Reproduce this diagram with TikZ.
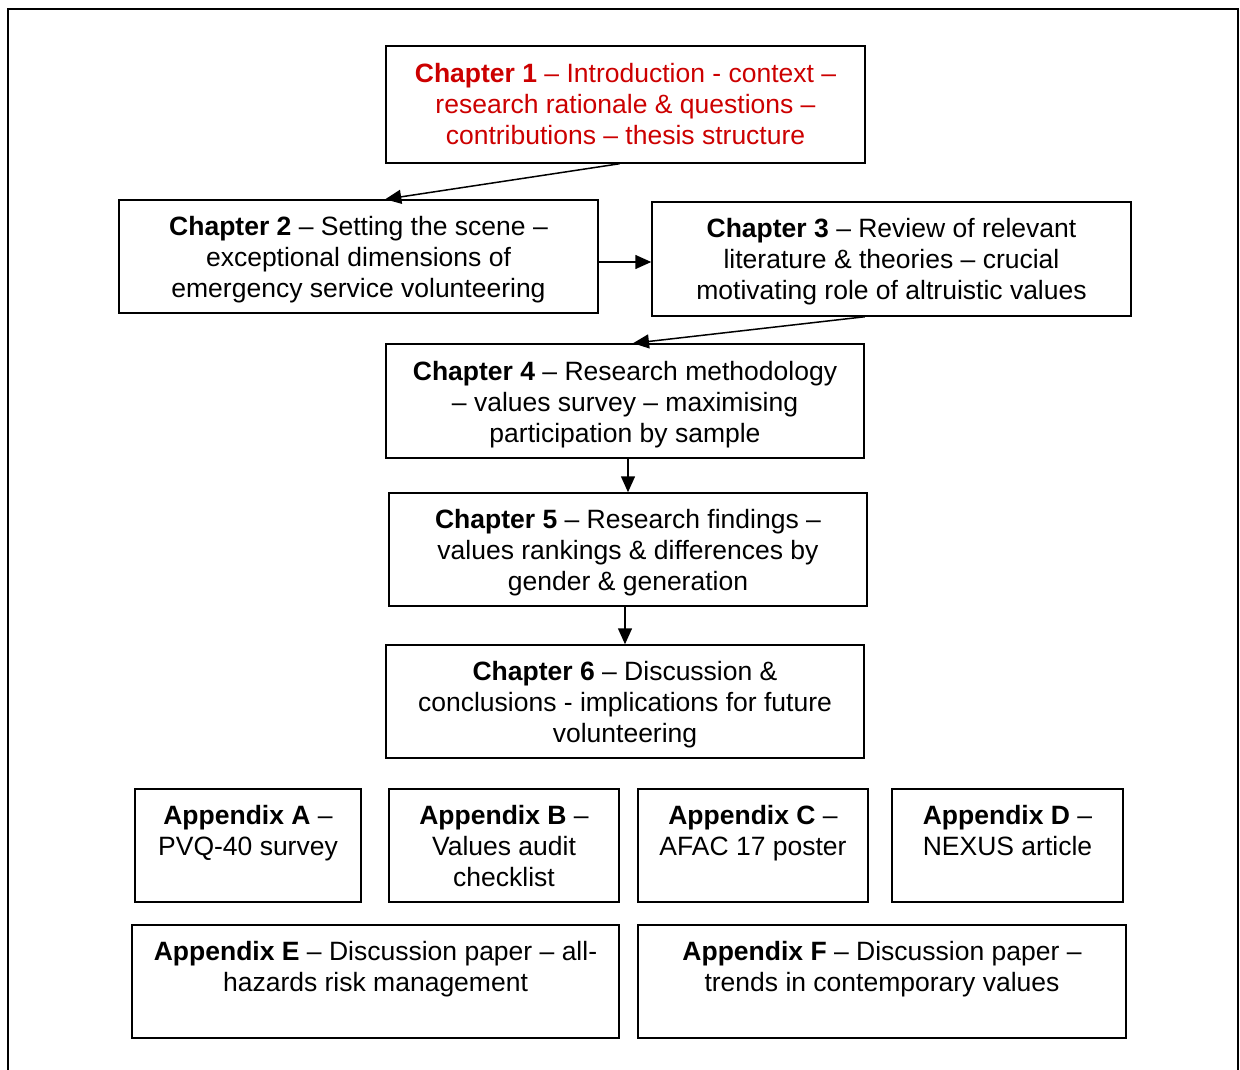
\documentclass[tikz,border=0pt]{standalone}
\usepackage{fontspec}
\setmainfont{Liberation Sans}
\usetikzlibrary{arrows.meta}
\definecolor{chred}{RGB}{204,0,0}
\newcommand\topstrut[1]{\rule{0pt}{#1}}
\tikzset{
  box/.style={draw=black, line width=1.5pt, inner sep=0pt, align=center,
    font=\fontsize{26.5}{31}\selectfont},
  txt/.style={inner sep=0pt, align=center, anchor=north,
    font=\fontsize{26.5}{31}\selectfont},
  conn/.style={line width=1.5pt, -{Triangle[length=16pt,width=14pt]}},
}
\begin{document}
\begin{tikzpicture}[x=1pt,y=-1pt]
\useasboundingbox (0,0) rectangle (1240,1070);
\draw[line width=2pt] (8,1072) -- (8,9) -- (1238,9) -- (1238,1072);

\node[box, minimum width=479pt, minimum height=117pt, text=chred] (ch1) at (625.5,104.5)
  {\textbf{Chapter 1} – Introduction - context –\\research rationale \& questions –\\contributions – thesis structure};
\node[box, minimum width=479pt, minimum height=113pt] (ch2) at (358.5,256.5)
  {\topstrut{26pt}\textbf{Chapter 2} – Setting the scene –\\exceptional dimensions of\\emergency service volunteering};
\node[box, minimum width=479pt, minimum height=114pt] (ch3) at (891.5,259)
  {\topstrut{25pt}\textbf{Chapter 3} – Review of relevant\\literature \& theories – crucial\\motivating role of altruistic values};
\node[box, minimum width=478pt, minimum height=114pt] (ch4) at (625,401)
  {\topstrut{26pt}\textbf{Chapter 4} – Research methodology\\– values survey – maximising\\participation by sample};
\node[box, minimum width=478pt, minimum height=113pt] (ch5) at (628,549.5)
  {\topstrut{26pt}\textbf{Chapter 5} – Research findings –\\values rankings \& differences by\\gender \& generation};
\node[box, minimum width=478pt, minimum height=113pt] (ch6) at (625,701.5)
  {\topstrut{26pt}\textbf{Chapter 6} – Discussion \&\\conclusions - implications for future\\volunteering};

\node[box, minimum width=226pt, minimum height=113pt] (apa) at (248,845.5) {};
\node[box, minimum width=230pt, minimum height=113pt] (apb) at (504,845.5) {};
\node[box, minimum width=230pt, minimum height=113pt] (apc) at (753,845.5) {};
\node[box, minimum width=231pt, minimum height=113pt] (apd) at (1007.5,845.5) {};
\node[box, minimum width=487pt, minimum height=113pt] (ape) at (375.5,981.5) {};
\node[box, minimum width=488pt, minimum height=113pt] (apf) at (882,981.5) {};

\node[txt] (ta) at ([yshift=-16.5pt]apa.north) {\textbf{Appendix A} –\\PVQ-40 survey};
\node[txt] (tb) at ([yshift=-16.5pt]apb.north) {\textbf{Appendix B} –\\Values audit\\checklist};
\node[txt] (tc) at ([yshift=-16.5pt]apc.north) {\textbf{Appendix C} –\\AFAC 17 poster};
\node[txt] (td) at ([yshift=-16.5pt]apd.north) {\textbf{Appendix D} –\\NEXUS article};
\node[txt] (te) at ([yshift=-16.5pt]ape.north) {\textbf{Appendix E} – Discussion paper – all-\\hazards risk management};
\node[txt] (tf) at ([yshift=-16.5pt]apf.north) {\textbf{Appendix F} – Discussion paper –\\trends in contemporary values};

\draw[conn] ([xshift=-6pt]ch1.south) -- (ch1.south west |- ch2.north);
\draw[conn] ([yshift=-5.5pt]ch2.east) -- ([yshift=-5.5pt]ch2.east -| ch3.west);
\draw[conn] (ch4.north east |- ch3.south) -- ([xshift=8pt]ch4.north);
\draw[conn] (ch5.north |- ch4.south) -- (ch5.north);
\draw[conn] (ch6.north |- ch5.south) -- (ch6.north);
\end{tikzpicture}
\end{document}
